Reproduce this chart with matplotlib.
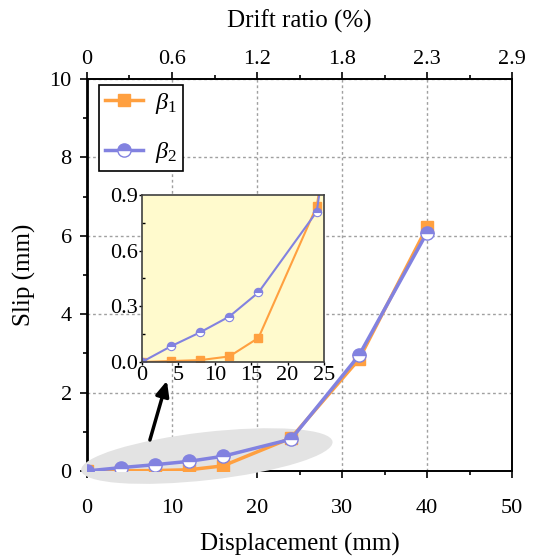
import matplotlib
matplotlib.use("Agg")
import matplotlib.pyplot as plt
from matplotlib.patches import Ellipse
from matplotlib.transforms import ScaledTranslation

plt.rcParams['font.family'] = ['Liberation Serif', 'DejaVu Serif']
plt.rcParams['mathtext.fontset'] = 'custom'
plt.rcParams['mathtext.rm'] = 'Liberation Serif'
plt.rcParams['mathtext.it'] = 'Liberation Serif:italic'

# slip vs. displacement for the two bond coefficients
disp = [0, 4, 8, 12, 16, 24, 32, 40]
slip_b1 = [0, 0.005, 0.01, 0.03, 0.13, 0.84, 2.85, 6.22]
slip_b2 = [0, 0.085, 0.16, 0.245, 0.375, 0.81, 2.95, 6.08]

disp_ticks = [0, 10, 20, 30, 40, 50]
drift_labels = ['0', '0.6', '1.2', '1.8', '2.3', '2.9']

c1 = '#FFA040'
c2 = '#8282E0'

fig = plt.figure(figsize=(5.37, 5.58), dpi=100)
ax = fig.add_axes([0.162, 0.156, 0.7915, 0.7025])

ax.plot(disp, slip_b1, color=c1, lw=2.5, marker='s', ms=9, mec=c1,
        label=r'$\beta_1$', zorder=3)
ax.plot(disp, slip_b2, color=c2, lw=2.5, marker='o', ms=9.5, mec=c2, mew=1,
        fillstyle='top', markerfacecoloralt='white', label=r'$\beta_2$', zorder=3.1)

ax.set_xlim(0, 50)
ax.set_ylim(0, 10)
ax.set_xticks(disp_ticks)
ax.set_xticks(range(5, 50, 10), minor=True)
ax.set_yticks(range(0, 11, 2))
ax.set_yticks(range(1, 10, 2), minor=True)
ax.grid(True, color='#A0A0A0', ls=(0, (2, 2)), lw=1)
ax.tick_params(which='major', direction='out', length=5, width=1.2, labelsize=16)
ax.tick_params(which='minor', direction='out', length=3, width=1.2)
ax.tick_params(axis='x', pad=15)
ax.tick_params(axis='y', pad=6)
for s in ax.spines.values():
    s.set_linewidth(1.4)
ax.spines['left'].set_linewidth(2)
ax.set_xlabel('Displacement (mm)', fontsize=18, labelpad=11)
ax.set_ylabel('Slip (mm)', fontsize=18, labelpad=10)

# top axis: drift ratio
top = ax.twiny()
top.set_xlim(ax.get_xlim())
top.set_xticks(disp_ticks)
top.set_xticklabels(drift_labels)
top.set_xticks(range(5, 50, 10), minor=True)
top.tick_params(which='major', direction='out', length=5, width=1.2, labelsize=16, pad=2)
top.tick_params(which='minor', direction='out', length=3, width=1.2)
top.set_xlabel('Drift ratio (%)', fontsize=18, labelpad=16)
for s in top.spines.values():
    s.set_visible(False)

# highlight of the small-displacement region
trans = fig.dpi_scale_trans + ScaledTranslation(14.1, 0.38, ax.transData)
ax.add_patch(Ellipse((0, 0), 2.53, 0.48, angle=6.5, transform=trans,
                     facecolor='#E3E3E3', edgecolor='none', zorder=2.6, clip_on=False))
ax.set_xlim(0, 50)
ax.set_ylim(0, 10)

ax.annotate('', xy=(9.4, 2.3), xytext=(7.4, 0.79),
            arrowprops=dict(arrowstyle='-|>,head_length=0.9,head_width=0.4',
                            color='k', lw=2.5, shrinkA=0, shrinkB=0), zorder=4)

leg = ax.legend(loc='upper left', bbox_to_anchor=(0.028, 0.985), borderaxespad=0,
                fontsize=17.5, frameon=True, fancybox=False, framealpha=1,
                edgecolor='k', handlelength=1.55, labelspacing=1.0,
                borderpad=0.25, handletextpad=0.5)
leg.get_frame().set_linewidth(1.2)
leg.set_zorder(5)

# inset zoom of the first cycles
axin = fig.add_axes([0.2644, 0.3513, 0.339, 0.2993], facecolor='#FFFACD')
axin.plot(disp, slip_b1, color=c1, lw=1.5, marker='s', ms=5.5, mec=c1)
axin.plot(disp, slip_b2, color=c2, lw=1.5, marker='o', ms=6, mec=c2, mew=0.8,
          fillstyle='top', markerfacecoloralt='white')
axin.set_xlim(0, 25)
axin.set_ylim(0, 0.9)
axin.set_xticks([0, 5, 10, 15, 20, 25])
axin.set_yticks([0, 0.3, 0.6, 0.9])
axin.set_yticklabels(['0.0', '0.3', '0.6', '0.9'])
axin.set_yticks([0.15, 0.45, 0.75], minor=True)
axin.tick_params(which='major', direction='out', length=2.5, width=1, labelsize=16, pad=0.5)
axin.tick_params(which='minor', direction='in', length=2, width=1)
for s in axin.spines.values():
    s.set_linewidth(1.2)
    s.set_color('#404040')

fig.savefig('out.png', dpi=100)
